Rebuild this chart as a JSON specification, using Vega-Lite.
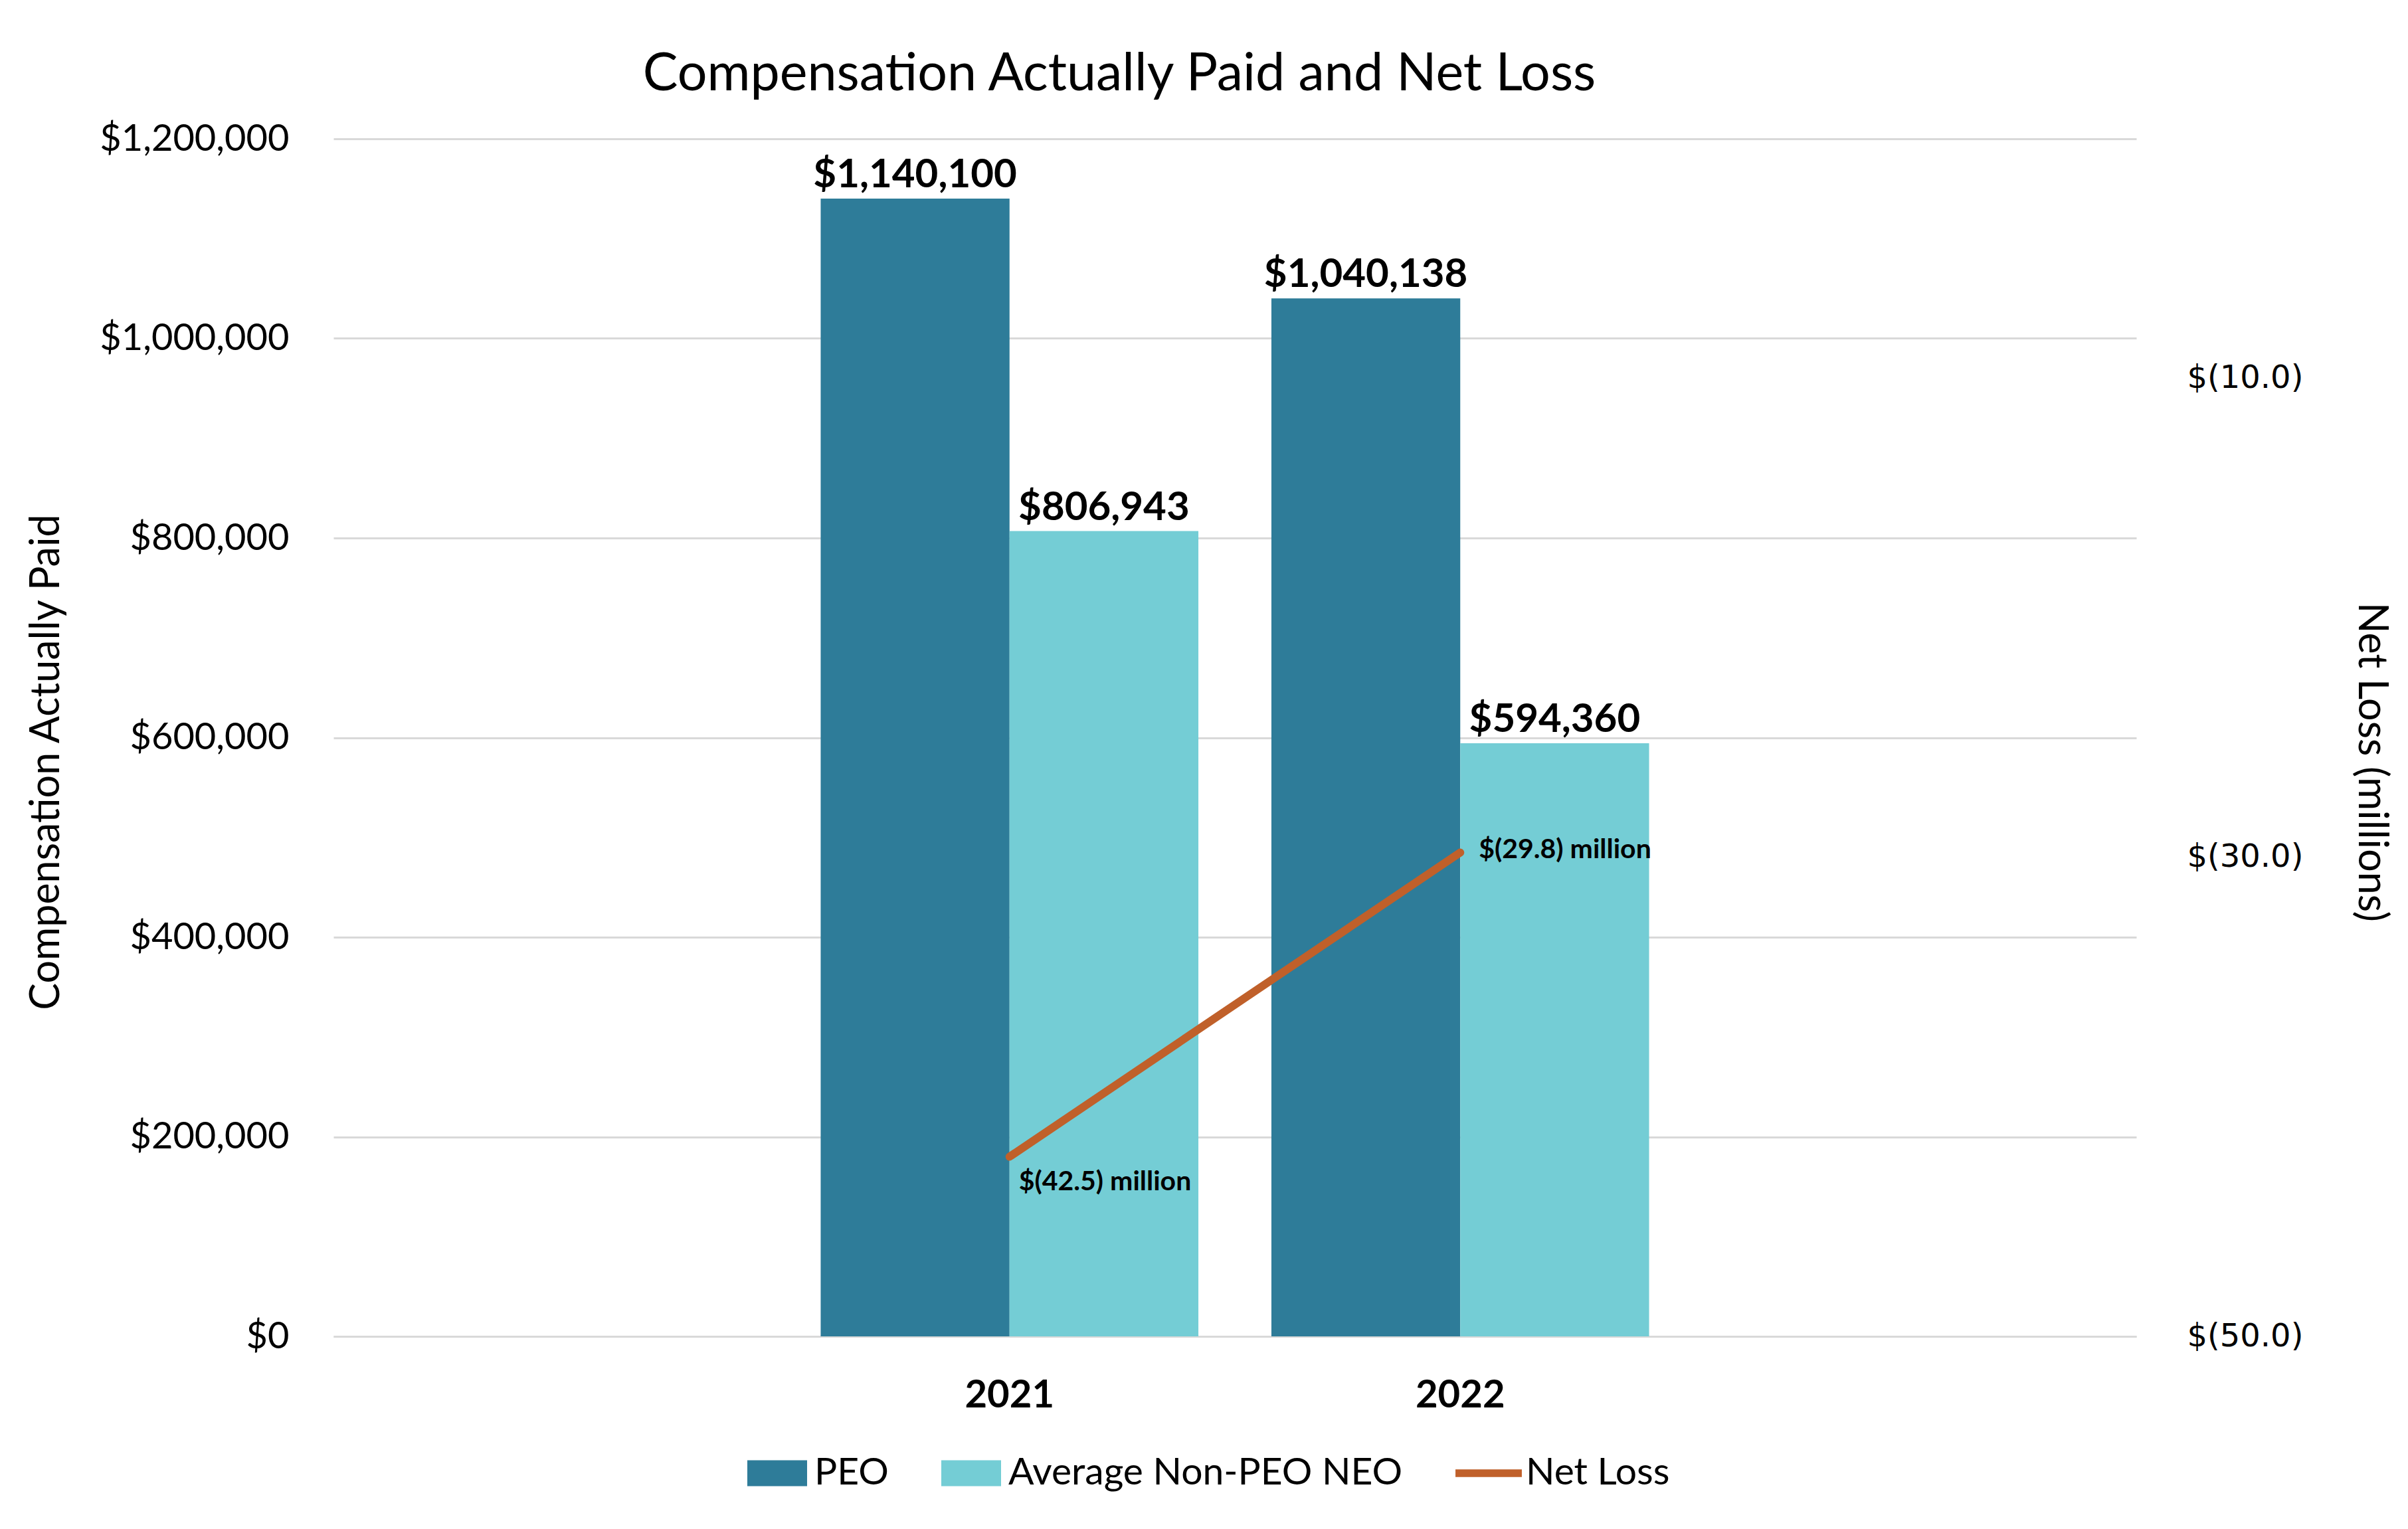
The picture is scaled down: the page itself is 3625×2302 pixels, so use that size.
{
  "$schema": "https://vega.github.io/schema/vega-lite/v6.json",
  "autosize": {"type": "none"},
  "width": 2714,
  "height": 1803,
  "padding": {"left": 502, "top": 209, "right": 409, "bottom": 290},
  "background": "white",
  "title": {
    "text": "Compensation Actually Paid and Net Loss",
    "font": "Lato",
    "fontSize": 79,
    "fontWeight": "normal",
    "color": "black",
    "anchor": "middle",
    "frame": "group",
    "baseline": "alphabetic",
    "offset": 47,
    "dy": 81,
    "dx": -174,
    "limit": 0
  },
  "datasets": {
    "comp": [
      {"year": "2021", "series": "PEO", "value": 1140100},
      {"year": "2021", "series": "Average Non-PEO NEO", "value": 806943},
      {"year": "2022", "series": "PEO", "value": 1040138},
      {"year": "2022", "series": "Average Non-PEO NEO", "value": 594360}
    ],
    "loss": [
      {"year": "2021", "series": "Net Loss", "loss": -42.5, "label": "$(42.5) million"},
      {"year": "2022", "series": "Net Loss", "loss": -29.8, "label": "$(29.8) million"}
    ]
  },
  "layer": [
    {
      "data": {"name": "comp"},
      "encoding": {
        "x": {
          "field": "year",
          "type": "nominal",
          "scale": {"domain": ["_a", "2021", "2022", "_b"], "paddingInner": 0.162, "paddingOuter": 0.081},
          "axis": {
            "title": null,
            "labelFont": "Lato",
            "labelFontSize": 58,
            "labelFontWeight": "bold",
            "labelColor": "black",
            "labelPadding": 60,
            "labelAngle": 0,
            "labelLimit": 0,
            "ticks": false,
            "domain": true,
            "domainColor": "#D9D9D9",
            "domainWidth": 3,
            "grid": false,
            "labelExpr": "(datum.value == '2021' || datum.value == '2022') ? datum.value : ''"
          }
        },
        "xOffset": {
          "field": "series",
          "type": "nominal",
          "scale": {"domain": ["PEO", "Average Non-PEO NEO"], "paddingInner": 0, "paddingOuter": 0}
        },
        "y": {
          "field": "value",
          "type": "quantitative",
          "scale": {"domain": [0, 1200000], "nice": false},
          "axis": {
            "title": "Compensation Actually Paid",
            "titleFont": "Lato",
            "titleFontSize": 61,
            "titleFontWeight": "normal",
            "titleColor": "black",
            "titleAngle": -90,
            "titleBaseline": "alphabetic",
            "titleAlign": "center",
            "titleX": -414,
            "titleY": 938,
            "titleLimit": 0,
            "labelFont": "Lato",
            "labelFontSize": 56,
            "labelColor": "black",
            "labelPadding": 67,
            "labelLimit": 0,
            "ticks": false,
            "domain": false,
            "grid": true,
            "gridColor": "#D9D9D9",
            "gridWidth": 3,
            "values": [0, 200000, 400000, 600000, 800000, 1000000, 1200000],
            "format": "$,.0f"
          }
        }
      },
      "layer": [
        {
          "mark": {"type": "bar"},
          "encoding": {
            "color": {
              "field": "series",
              "type": "nominal",
              "scale": {"domain": ["PEO", "Average Non-PEO NEO", "Net Loss"], "range": ["#2E7C99", "#74CDD5", "#C0602A"]},
              "legend": {
                "orient": "none",
                "legendX": 623,
                "legendY": 1964,
                "direction": "horizontal",
                "title": null,
                "labelFont": "Lato",
                "labelFontSize": 57,
                "labelColor": "black",
                "labelLimit": 0,
                "labelOffset": 11,
                "columnPadding": 79,
                "symbolSize": 8100,
                "padding": 0,
                "encode": {
                  "symbols": {
                    "update": {
                      "shape": {"signal": "datum.value === 'Net Loss' ? 'M-1.11,-0.13H1.11V0.13H-1.11Z' : 'M-1,-0.433H1V0.433H-1Z'"},
                      "fill": {"scale": "color", "field": "value"},
                      "stroke": {"value": "transparent"},
                      "strokeWidth": {"value": 0},
                      "opacity": {"value": 1}
                    }
                  }
                }
              }
            }
          }
        },
        {
          "mark": {"type": "text", "font": "Lato", "fontSize": 60, "fontWeight": "bold", "color": "black", "baseline": "alphabetic", "dy": -17},
          "encoding": {"text": {"field": "value", "type": "quantitative", "format": "$,.0f"}}
        }
      ]
    },
    {
      "data": {"name": "loss"},
      "encoding": {
        "x": {
          "field": "year",
          "type": "nominal",
          "scale": {"domain": ["_a", "2021", "2022", "_b"], "paddingInner": 0.162, "paddingOuter": 0.081}
        },
        "y": {
          "field": "loss",
          "type": "quantitative",
          "scale": {"domain": [-50, 0], "nice": false},
          "axis": {
            "orient": "right",
            "title": "Net Loss (millions)",
            "titleFont": "Lato",
            "titleFontSize": 61,
            "titleFontWeight": "normal",
            "titleColor": "black",
            "titleAngle": 90,
            "titleBaseline": "alphabetic",
            "titleAlign": "center",
            "titleX": 334,
            "titleY": 938,
            "titleLimit": 0,
            "labelFont": "DejaVu Sans",
            "labelFontSize": 48,
            "labelColor": "black",
            "labelPadding": 76,
            "labelLimit": 0,
            "ticks": false,
            "domain": false,
            "grid": false,
            "values": [-50, -30, -10],
            "labelExpr": "'$(' + format(abs(datum.value), '.1f') + ')'"
          }
        }
      },
      "layer": [
        {
          "mark": {"type": "line", "strokeWidth": 12, "strokeCap": "round"},
          "encoding": {
            "color": {
              "field": "series",
              "type": "nominal",
              "scale": {"domain": ["PEO", "Average Non-PEO NEO", "Net Loss"], "range": ["#2E7C99", "#74CDD5", "#C0602A"]},
              "legend": {
                "orient": "none",
                "legendX": 623,
                "legendY": 1964,
                "direction": "horizontal",
                "title": null,
                "labelFont": "Lato",
                "labelFontSize": 57,
                "labelColor": "black",
                "labelLimit": 0,
                "labelOffset": 11,
                "columnPadding": 79,
                "symbolSize": 8100,
                "padding": 0,
                "encode": {
                  "symbols": {
                    "update": {
                      "shape": {"signal": "datum.value === 'Net Loss' ? 'M-1.11,-0.13H1.11V0.13H-1.11Z' : 'M-1,-0.433H1V0.433H-1Z'"},
                      "fill": {"scale": "color", "field": "value"},
                      "stroke": {"value": "transparent"},
                      "strokeWidth": {"value": 0},
                      "opacity": {"value": 1}
                    }
                  }
                }
              }
            }
          }
        },
        {
          "transform": [{"filter": "datum.year == '2021'"}],
          "mark": {"type": "text", "font": "Lato", "fontSize": 41, "fontWeight": "bold", "color": "black", "align": "left", "baseline": "alphabetic", "dx": 14, "dy": 50},
          "encoding": {"text": {"field": "label", "type": "nominal"}}
        },
        {
          "transform": [{"filter": "datum.year == '2022'"}],
          "mark": {"type": "text", "font": "Lato", "fontSize": 41, "fontWeight": "bold", "color": "black", "align": "left", "baseline": "alphabetic", "dx": 28, "dy": 8},
          "encoding": {"text": {"field": "label", "type": "nominal"}}
        }
      ]
    }
  ],
  "resolve": {"scale": {"y": "independent"}},
  "config": {"view": {"stroke": null}}
}
